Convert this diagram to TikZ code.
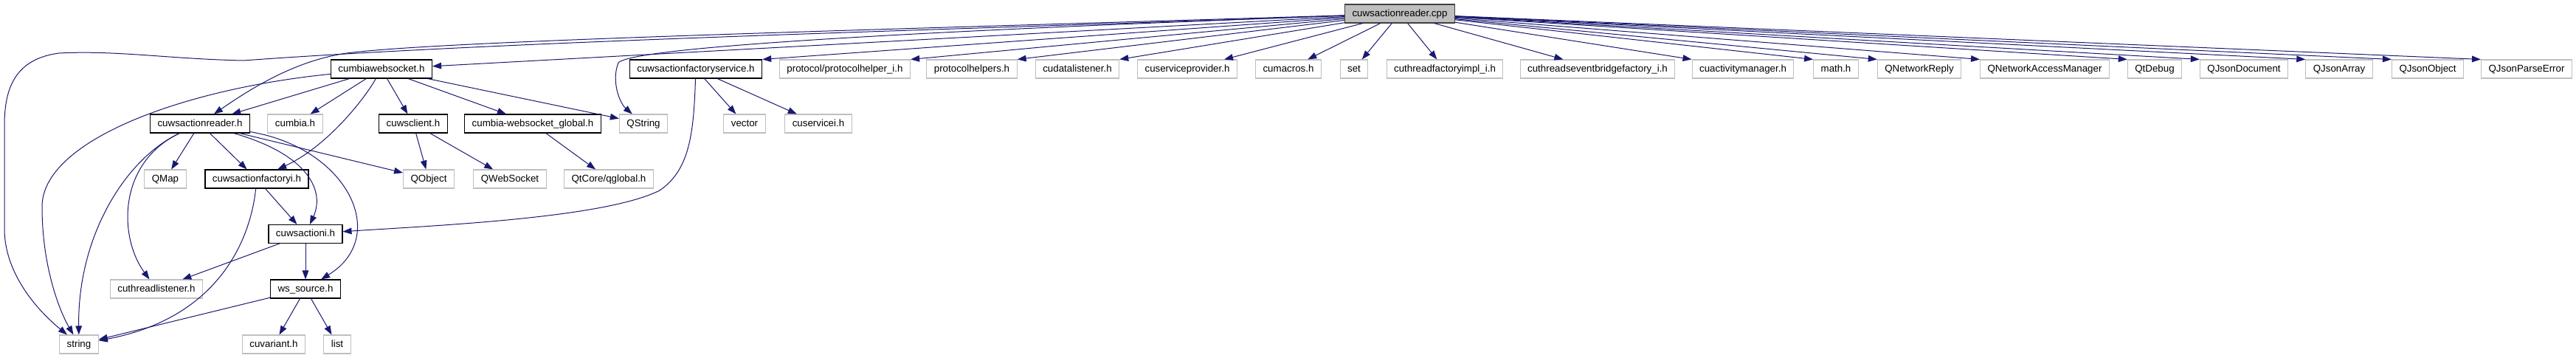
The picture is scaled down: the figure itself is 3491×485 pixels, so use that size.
\documentclass[tikz,border=0pt]{standalone}
\usepackage{fontspec}
\setmainfont{Liberation Sans}
\usepackage{xcolor}
\usepackage{tikz}
\usetikzlibrary{arrows.meta}
\definecolor{DoxEdge}{RGB}{25,25,112}
\definecolor{DoxGrey}{RGB}{191,191,191}
\definecolor{DoxDark}{RGB}{64,64,64}

\begin{document}
\begin{tikzpicture}[
    x=0.75pt, y=-0.75pt,
    file/.style={
      draw,
      line width=0.8pt,
      font=\fontsize{10}{12}\selectfont,
      minimum height=18.75pt,
      inner xsep=7.5pt,
      inner ysep=0pt,
      text height=7.3pt,
      text depth=2pt
    },
    extfile/.style={file, draw=DoxGrey},
    docfile/.style={file, draw=black},
    rootfile/.style={file, draw=DoxDark, fill=DoxGrey},
    arrow/.style={-{Triangle[length=9pt,width=6.5pt]}, DoxEdge, line width=0.75pt}
  ]
  \useasboundingbox (0,0) rectangle (3491,485);

  \node[rootfile] (cpp) at (1897,18.5) {cuwsactionreader.cpp};

  \node[docfile] (websocket-h) at (517,93.5) {cumbiawebsocket.h};
  \node[docfile] (factoryservice-h) at (943,93.5) {cuwsactionfactoryservice.h};
  \node[extfile] (protohelper-i-h) at (1145,93.5) {protocol/protocolhelper\_i.h};
  \node[extfile] (protohelpers-h) at (1317,93.5) {protocolhelpers.h};
  \node[extfile] (datalistener-h) at (1460,93.5) {cudatalistener.h};
  \node[extfile] (serviceprovider-h) at (1609,93.5) {cuserviceprovider.h};
  \node[extfile] (macros-h) at (1746,93.5) {cumacros.h};
  \node[extfile] (std-set) at (1835,93.5) {set};
  \node[extfile] (threadfactory-h) at (1958,93.5) {cuthreadfactoryimpl\_i.h};
  \node[extfile] (eventbridge-h) at (2165,93.5) {cuthreadseventbridgefactory\_i.h};
  \node[extfile] (activitymgr-h) at (2362,93.5) {cuactivitymanager.h};
  \node[extfile] (math-h) at (2488,93.5) {math.h};
  \node[extfile] (qnetreply) at (2601,93.5) {QNetworkReply};
  \node[extfile] (qnetmanager) at (2771,93.5) {QNetworkAccessManager};
  \node[extfile] (qtdebug) at (2920,93.5) {QtDebug};
  \node[extfile] (qjsondoc) at (3041,93.5) {QJsonDocument};
  \node[extfile] (qjsonarray) at (3170,93.5) {QJsonArray};
  \node[extfile] (qjsonobject) at (3290,93.5) {QJsonObject};
  \node[extfile] (qjsonerror) at (3424,93.5) {QJsonParseError};

  \node[docfile] (reader-h) at (271,167.5) {cuwsactionreader.h};
  \node[extfile] (cumbia-h) at (400,167.5) {cumbia.h};
  \node[docfile] (client-h) at (560,167.5) {cuwsclient.h};
  \node[docfile] (global-h) at (722,167.5) {cumbia-websocket\_global.h};
  \node[extfile] (qstring) at (872,167.5) {QString};
  \node[extfile] (std-vector) at (1009,167.5) {vector};
  \node[extfile] (servicei-h) at (1109,167.5) {cuservicei.h};

  \node[extfile] (qmap) at (224,242.5) {QMap};
  \node[docfile] (factoryi-h) at (348,242.5) {cuwsactionfactoryi.h};
  \node[extfile] (qobject) at (581,242.5) {QObject};
  \node[extfile] (qwebsocket) at (691,242.5) {QWebSocket};
  \node[extfile] (qglobal-h) at (825,242.5) {QtCore/qglobal.h};

  \node[docfile] (actioni-h) at (414,317) {cuwsactioni.h};

  \node[extfile] (threadlistener-h) at (212,391.5) {cuthreadlistener.h};
  \node[docfile] (source-h) at (414,391.5) {ws\_source.h};

  \node[extfile] (std-string) at (107,466.5) {string};
  \node[extfile] (variant-h) at (371,466.5) {cuvariant.h};
  \node[extfile] (std-list) at (457,466.5) {list};

  % includes of the .cpp
  \draw[arrow] (cpp) .. controls (1300,40) and (700,55) .. (330,82)
    .. controls (230,80) and (160,68) .. (80,72)
    .. controls (20,80) and (6,120) .. (6,170) -- (6,310)
    .. controls (6,370) and (50,420) .. (std-string);
  \draw[arrow] (cpp) .. controls (1200,40) and (600,55) .. (470,72)
    .. controls (400,82) and (340,120) .. (reader-h);
  \draw[arrow] (cpp) -- (websocket-h);
  \draw[arrow] (cpp) .. controls (1300,40) and (860,62) .. (838,85)
    .. controls (828,110) and (840,140) .. (qstring);
  \draw[arrow] (cpp) -- (factoryservice-h.north east);
  \draw[arrow] (cpp) -- (protohelper-i-h.north east);
  \draw[arrow] (cpp) -- (protohelpers-h.north east);
  \draw[arrow] (cpp) -- (datalistener-h.north east);
  \draw[arrow] (cpp) -- (serviceprovider-h);
  \draw[arrow] (cpp) -- (macros-h);
  \draw[arrow] (cpp) -- (std-set);
  \draw[arrow] (cpp) -- (threadfactory-h);
  \draw[arrow] (cpp) -- (eventbridge-h);
  \draw[arrow] (cpp) -- (activitymgr-h.north west);
  \draw[arrow] (cpp) -- (math-h.north west);
  \draw[arrow] (cpp) -- (qnetreply.north west);
  \draw[arrow] (cpp) -- (qnetmanager.north west);
  \draw[arrow] (cpp) -- (qtdebug.north west);
  \draw[arrow] (cpp) -- (qjsondoc.north west);
  \draw[arrow] (cpp) -- (qjsonarray.north west);
  \draw[arrow] (cpp) -- (qjsonobject.north west);
  \draw[arrow] (cpp) -- (qjsonerror.north west);

  % cumbiawebsocket.h
  \draw[arrow] (websocket-h) -- (reader-h);
  \draw[arrow] (websocket-h) .. controls (250,120) and (57,190) .. (57,280)
    .. controls (57,360) and (80,420) .. (std-string);
  \draw[arrow] (websocket-h) -- (cumbia-h);
  \draw[arrow] (websocket-h) .. controls (490,140) and (440,200) .. (factoryi-h);
  \draw[arrow] (websocket-h) -- (client-h);
  \draw[arrow] (websocket-h) -- (global-h);
  \draw[arrow] (websocket-h) -- (qstring);

  % cuwsactionreader.h
  \draw[arrow] (reader-h) -- (qmap);
  \draw[arrow] (reader-h) -- (factoryi-h);
  \draw[arrow] (reader-h) .. controls (170,215) and (105,320) .. (std-string);
  \draw[arrow] (reader-h) .. controls (160,220) and (160,320) .. (threadlistener-h);
  \draw[arrow] (reader-h) .. controls (420,210) and (440,260) .. (actioni-h);
  \draw[arrow] (reader-h) .. controls (470,200) and (530,320) .. (source-h);
  \draw[arrow] (reader-h) -- (qobject);

  \draw[arrow] (client-h) -- (qobject);
  \draw[arrow] (client-h) -- (qwebsocket);
  \draw[arrow] (global-h) -- (qglobal-h);

  \draw[arrow] (factoryservice-h) -- (std-vector);
  \draw[arrow] (factoryservice-h) -- (servicei-h);
  \draw[arrow] (factoryservice-h) .. controls (940,180) and (935,230) .. (894,258)
    .. controls (820,295) and (600,305) .. (actioni-h);

  \draw[arrow] (factoryi-h) -- (actioni-h);
  \draw[arrow] (factoryi-h) .. controls (340,320) and (300,430) .. (std-string);

  \draw[arrow] (actioni-h) -- (threadlistener-h);
  \draw[arrow] (actioni-h) -- (source-h);

  \draw[arrow] (source-h) -- (std-string);
  \draw[arrow] (source-h) -- (variant-h);
  \draw[arrow] (source-h) -- (std-list);
\end{tikzpicture}
\end{document}
